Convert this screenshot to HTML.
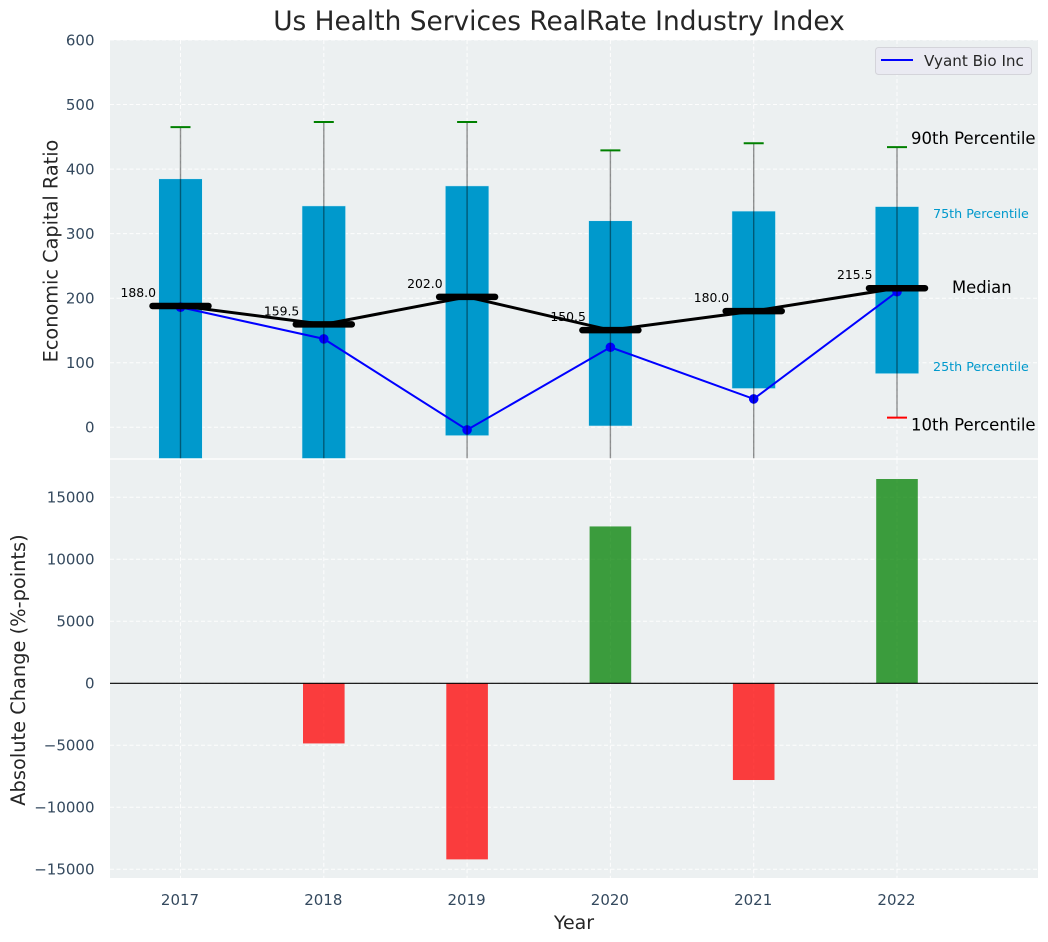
<!DOCTYPE html>
<html lang="en">
<head>
<meta charset="utf-8">
<title>Us Health Services RealRate Industry Index</title>
<style>
html,body{margin:0;padding:0;background:#fff;}
svg{display:block;font-family:"DejaVu Sans","Liberation Sans",sans-serif;}
</style>
</head>
<body>
<svg id="chart" xmlns="http://www.w3.org/2000/svg" width="1048" height="942" viewBox="0 0 1048 942">
<defs>
<clipPath id="top-clip"><rect x="110" y="40" width="928" height="418.3"/></clipPath>
<clipPath id="bottom-clip"><rect x="110" y="459.7" width="928" height="418.3"/></clipPath>
</defs>
<rect x="110" y="40" width="928" height="418.3" fill="#ecf0f1"/>
<rect x="110" y="459.7" width="928" height="418.3" fill="#ecf0f1"/>
<g id="top-grid"></g>
<g id="bottom-grid"></g>
<g id="top-marks" clip-path="url(#top-clip)"></g>
<g id="bottom-marks" clip-path="url(#bottom-clip)"></g>
<g id="labels"></g>
<text x="559" y="30" text-anchor="middle" font-size="26.4" fill="#262626">Us Health Services RealRate Industry Index</text>
<text transform="translate(57.5 251) rotate(-90)" text-anchor="middle" font-size="19.3" fill="#262626">Economic Capital Ratio</text>
<text transform="translate(25 670) rotate(-90)" text-anchor="middle" font-size="19.4" fill="#262626">Absolute Change (%-points)</text>
<text x="574" y="929" text-anchor="middle" font-size="19" fill="#262626">Year</text>
<g>
<rect x="875.5" y="47.5" width="156" height="27" rx="3" fill="#eaeaf2" stroke="#d4d4da" stroke-width="1"/>
<line x1="881" y1="60" x2="913" y2="60" stroke="#0000ff" stroke-width="2"/>
<text x="924" y="66" font-size="15.2" fill="#262626">Vyant Bio Inc</text>
</g>
<script>
var years = ['2017','2018','2019','2020','2021','2022'];
var p90 = [465,473,473,429,440,434];
var p75 = [385,343,374,320,335,342];
var medians = [188.0,159.5,202.0,150.5,180.0,215.5];
var p25 = [-70,-65,-13,2,60,83];
var p10 = [-120,-110,-90,-70,-60,15];
var company = [186,137,-4,124,44,210];
var changes = [0,-4850,-14200,12650,-7800,16475];
var topTicks = [0,100,200,300,400,500,600];
var bottomTicks = [-15000,-10000,-5000,0,5000,10000,15000];

var NS = 'http://www.w3.org/2000/svg';
function x(i){ return 180.5 + i * 143.3; }
function yTop(v){ return 427.3 - v * 0.6455; }
function yBottom(v){ return 683.3 - v * 0.0124; }
function make(tag, attrs, parent){
  var el = document.createElementNS(NS, tag);
  for (var k in attrs) el.setAttribute(k, attrs[k]);
  parent.appendChild(el);
  return el;
}
var topGrid = document.getElementById('top-grid');
var bottomGrid = document.getElementById('bottom-grid');
var topMarks = document.getElementById('top-marks');
var bottomMarks = document.getElementById('bottom-marks');
var labels = document.getElementById('labels');
var gridStyle = {stroke:'#ffffff','stroke-width':1,'stroke-dasharray':'4 2.5',opacity:0.9};
function gridLine(parent,x1,y1,x2,y2){
  var a = {x1:x1,y1:y1,x2:x2,y2:y2};
  for (var k in gridStyle) a[k] = gridStyle[k];
  return make('line',a,parent);
}
function tickText(str,px,py,anchor){
  var t = make('text',{x:px,y:py,'text-anchor':anchor,'font-size':15,fill:'#34495e'},labels);
  t.textContent = str;
  return t;
}

topTicks.forEach(function(v){
  var g = gridLine(topGrid,110,yTop(v),1038,yTop(v));
  
  
  var t = tickText(String(v),94.5,yTop(v)+5.4,'end');
  
  
});
bottomTicks.forEach(function(v){
  var g = gridLine(bottomGrid,110,yBottom(v),1038,yBottom(v));
  
  
  var t = tickText(String(v).replace('-','\u2212'),94.5,yBottom(v)+5.4,'end');
  
  
});
years.forEach(function(yr,i){
  var g1 = gridLine(topGrid,x(i),40,x(i),458.3);
  
  
  var g2 = gridLine(bottomGrid,x(i),459.7,x(i),878);
  
  
  var t = tickText(yr,x(i)-0.5,905,'middle');
  
  
});

years.forEach(function(yr,i){
  var bar = make('rect',{x:x(i)-21.8,y:yTop(p75[i]),width:43.6,height:yTop(p25[i])-yTop(p75[i]),fill:'#0099cc',stroke:'#d8eef5','stroke-width':0.6},topMarks);
  
  
});

function pointsOf(values){
  return values.map(function(v,i){ return x(i)+','+yTop(v); }).join(' ');
}
var companyLine = make('polyline',{points:pointsOf(company),fill:'none',stroke:'#0000ff','stroke-width':2},topMarks);


company.forEach(function(v,i){
  var c = make('circle',{cx:x(i),cy:yTop(v),r:4.8,fill:'#0000ff'},topMarks);
  
  
});
years.forEach(function(yr,i){
  var w = make('line',{x1:x(i),y1:yTop(p90[i]),x2:x(i),y2:yTop(p10[i]),stroke:'#000000','stroke-opacity':0.42,'stroke-width':1.4},topMarks);
  
  
  var capHi = make('line',{x1:x(i)-10,y1:yTop(p90[i]),x2:x(i)+10,y2:yTop(p90[i]),stroke:'#008000','stroke-width':2},topMarks);
  
  
  var capLo = make('line',{x1:x(i)-10,y1:yTop(p10[i]),x2:x(i)+10,y2:yTop(p10[i]),stroke:'#ff0000','stroke-width':2},topMarks);
  
  
});
var medianLine = make('polyline',{points:pointsOf(medians),fill:'none',stroke:'#000000','stroke-width':3},topMarks);


medians.forEach(function(v,i){
  var m = make('line',{x1:x(i)-28,y1:yTop(v),x2:x(i)+28,y2:yTop(v),stroke:'#000000','stroke-width':6.5,'stroke-linecap':'round'},topMarks);
  
  
  var t = make('text',{x:x(i)-24.5,y:yTop(v)-9,'text-anchor':'end','font-size':12.4,fill:'#000000'},labels);
  t.textContent = v.toFixed(1);
  
  
});

changes.forEach(function(v,i){
  if (v === 0) return;
  var top = Math.min(yBottom(v),yBottom(0));
  var b = make('rect',{x:x(i)-20.8,y:top,width:41.6,height:Math.abs(yBottom(v)-yBottom(0)),fill:v<0?'#ff0000':'#008000','fill-opacity':0.75},bottomMarks);
  
  
});
var zero = make('line',{x1:110,y1:yBottom(0),x2:1038,y2:yBottom(0),stroke:'#000000','stroke-width':1.2},bottomMarks);



var last = years.length - 1;
var a90 = make('text',{x:911,y:yTop(p90[last])-3,'font-size':16.5,fill:'#000000'},labels);
a90.textContent = '90th Percentile';


var a75 = make('text',{x:933,y:yTop(p75[last])+11.6,'font-size':12.7,fill:'#0099cc'},labels);
a75.textContent = '75th Percentile';


var aMed = make('text',{x:952,y:yTop(medians[last])+5,'font-size':16.4,fill:'#000000'},labels);
aMed.textContent = 'Median';


var a25 = make('text',{x:933,y:yTop(p25[last])-2.5,'font-size':12.7,fill:'#0099cc'},labels);
a25.textContent = '25th Percentile';


var a10 = make('text',{x:911,y:yTop(p10[last])+13,'font-size':16.5,fill:'#000000'},labels);
a10.textContent = '10th Percentile';


</script>
</svg>
</body>
</html>
